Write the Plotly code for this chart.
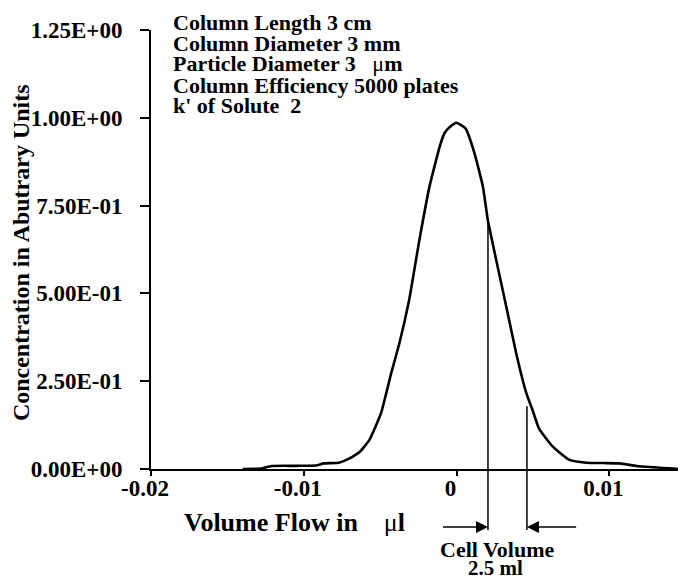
import plotly.graph_objects as go

# ---- data ----
volume_flow = [-0.0140, -0.0128, -0.0121, -0.0105, -0.0092, -0.0087, -0.0077, -0.0070,
               -0.0063, -0.0057, -0.00494, -0.00428, -0.00374, -0.0031, -0.00243,
               -0.00177, -0.0011, -0.00079, -0.0004, 0.0, 0.00059, 0.00118, 0.00173,
               0.00205, 0.0026, 0.00326, 0.00391, 0.00457, 0.0050, 0.0054, 0.0063,
               0.0074, 0.0085, 0.0096, 0.0107, 0.0118, 0.0129, 0.0142, 0.0145]
concentration = [0.0, 0.001, 0.0085, 0.009, 0.010, 0.016, 0.018, 0.030,
                 0.050, 0.083, 0.159, 0.272, 0.358, 0.481, 0.652,
                 0.804, 0.918, 0.956, 0.975, 0.986, 0.970, 0.899, 0.804,
                 0.709, 0.595, 0.462, 0.329, 0.216, 0.165, 0.115, 0.0635,
                 0.026, 0.018, 0.017, 0.016, 0.0085, 0.005, 0.001, 0.0]

x_ticks = [-0.02, -0.01, 0, 0.01]
x_tick_labels = ["-0.02", "-0.01", "0", "0.01"]
y_ticks = [0, 0.25, 0.5, 0.75, 1.0, 1.25]
y_tick_labels = ["0.00E+00", "2.50E-01", "5.00E-01", "7.50E-01", "1.00E+00", "1.25E+00"]

cell_edges = [0.00206, 0.00461]        # x positions of cell volume markers
cell_tops = [0.709, 0.179]             # where marker lines meet the curve
arrow_tails = [-0.00098, 0.00793]      # arrow start points

info_lines = ["Column Length 3 cm", "Column Diameter 3 mm",
              "Particle Diameter 3   <span style='font-weight:normal'>μ</span>m",
              "Column Efficiency 5000 plates", "k' of Solute  2"]

FONT = "Liberation Serif, Times New Roman, serif"

fig = go.Figure()
fig.add_trace(go.Scatter(x=volume_flow, y=concentration, mode="lines",
                         line=dict(color="black", width=2.6, shape="spline", smoothing=0.4),
                         showlegend=False, hoverinfo="skip"))

shapes = []
for xe, yt in zip(cell_edges, cell_tops):
    shapes.append(dict(type="line", xref="x", yref="y", x0=xe, x1=xe, y0=0, y1=yt,
                       line=dict(color="black", width=1.5)))
    shapes.append(dict(type="line", xref="x", yref="paper", x0=xe, x1=xe, y0=0, y1=-0.139,
                       line=dict(color="black", width=1.5)))

annotations = []
for xe, xt in zip(cell_edges, arrow_tails):
    annotations.append(dict(x=xe, y=-0.132, xref="x", yref="paper",
                            ax=xt, ay=0, axref="x", ayref="pixel",
                            text="", showarrow=True, arrowhead=2, arrowsize=1.5,
                            arrowwidth=1.6, arrowcolor="black"))

annotations.append(dict(x=0.657, y=-0.1845, xref="paper", yref="paper",
                        xanchor="center", yanchor="middle", borderpad=0,
                        text="Cell Volume", showarrow=False,
                        font=dict(family=FONT, size=22, color="black", weight="bold")))
annotations.append(dict(x=0.654, y=-0.226, xref="paper", yref="paper",
                        xanchor="center", yanchor="middle", borderpad=0,
                        text="2.5 ml", showarrow=False,
                        font=dict(family=FONT, size=21, color="black", weight="bold")))

# axis titles
annotations.append(dict(x=0.059, y=-0.123, xref="paper", yref="paper",
                        xanchor="left", yanchor="middle",
                        text="Volume Flow in    <span style='font-weight:normal'>μ</span>l",
                        showarrow=False,
                        font=dict(family=FONT, size=26, color="black", weight="bold")))
annotations.append(dict(x=-0.2467, y=0.494, xref="paper", yref="paper",
                        xanchor="center", yanchor="middle",
                        text="Concentration in Abutrary Units", textangle=-90,
                        showarrow=False,
                        font=dict(family=FONT, size=24, color="black", weight="bold")))

info_y = [1.016, 0.970, 0.923, 0.874, 0.827]
for t, yy in zip(info_lines, info_y):
    annotations.append(dict(x=0.040, y=yy, xref="paper", yref="paper", xanchor="left",
                            yanchor="middle", borderpad=0, text=t, showarrow=False,
                            font=dict(family=FONT, size=22, color="black", weight="bold")))

fig.update_layout(
    width=678, height=579,
    margin=dict(l=151, r=0, t=30, b=110),
    paper_bgcolor="white", plot_bgcolor="white",
    shapes=shapes, annotations=annotations,
    showlegend=False,
    xaxis=dict(range=[-0.02, 0.0145], tickvals=x_ticks, ticktext=x_tick_labels,
               showgrid=False, zeroline=False, showline=True, linecolor="black",
               linewidth=2, ticks="outside", ticklen=5, tickwidth=1.5, tickcolor="black",
               ticklabelshift=-6, ticklabelstandoff=-8,
               tickfont=dict(family=FONT, size=23, color="black", weight="bold")),
    yaxis=dict(range=[0, 1.25], tickvals=y_ticks, ticktext=y_tick_labels,
               showgrid=False, zeroline=False, showline=True, linecolor="black",
               linewidth=2, ticks="outside", ticklen=9, tickwidth=1.5, tickcolor="black",
               ticklabelstandoff=13,
               tickfont=dict(family=FONT, size=23, color="black", weight="bold")),
)

fig.write_html("out.html")
